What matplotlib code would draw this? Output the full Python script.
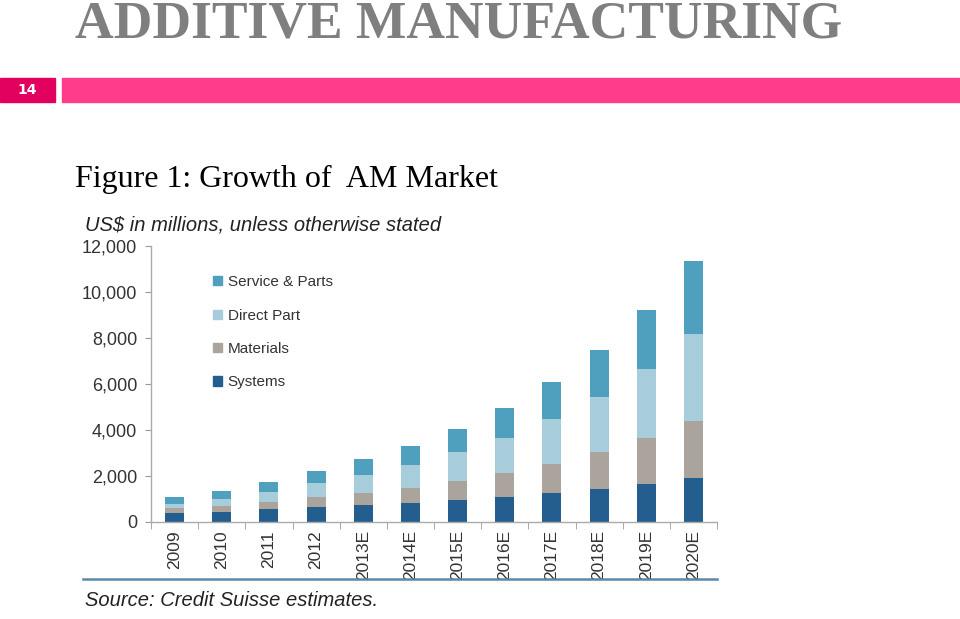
import matplotlib
matplotlib.use("Agg")
import matplotlib.pyplot as plt
from matplotlib.patches import Rectangle, Patch
from matplotlib.lines import Line2D
import numpy as np

years = ["2009", "2010", "2011", "2012", "2013E", "2014E", "2015E",
         "2016E", "2017E", "2018E", "2019E", "2020E"]
systems = [360, 410, 565, 625, 715, 800, 945, 1090, 1260, 1435, 1640, 1900]
materials = [220, 275, 305, 435, 520, 655, 825, 1015, 1265, 1610, 2015, 2495]
direct_part = [190, 290, 435, 610, 795, 1010, 1250, 1550, 1930, 2395, 3000, 3760]
service_parts = [315, 375, 420, 550, 685, 830, 1010, 1305, 1635, 2030, 2540, 3185]
y_ticks = [0, 2000, 4000, 6000, 8000, 10000, 12000]

W, H = 960, 619
fig = plt.figure(figsize=(W / 100, H / 100), dpi=100)

def fx(px):
    return px / W

def fy(py):
    return 1 - py / H

# Slide title
fig.text(fx(75), fy(37), "ADDITIVE MANUFACTURING", family="Liberation Serif",
         fontweight="bold", fontsize=38.5, color="#7f7f7f", ha="left", va="baseline")

# Pink band
fig.patches.append(Rectangle((fx(0), fy(102)), fx(55), (102 - 78) / H,
                             transform=fig.transFigure, color="#e2005f", zorder=0))
fig.patches.append(Rectangle((fx(62), fy(102)), fx(960 - 62), (102 - 78) / H,
                             transform=fig.transFigure, color="#ff3b8b", zorder=0))
fig.text(fx(27), fy(90), "14", color="white", fontsize=10, fontweight="bold",
         ha="center", va="center", family="DejaVu Sans")

# Figure caption
fig.text(fx(75), fy(187), "Figure 1: Growth of  AM Market", family="Liberation Serif",
         fontsize=23, color="black", ha="left", va="baseline")

fig.text(fx(85), fy(225), "US$ in millions, unless otherwise stated",
         family="Liberation Sans", style="italic", fontsize=14.5, color="#222222",
         ha="left", va="center")

# Axes
ax = fig.add_axes([fx(151), 1 - 521.7 / H, fx(717 - 151), 276 / H])
x = np.arange(len(years))
colors = {"sys": "#245e8f", "mat": "#aaa49c", "dir": "#a8cdda", "serv": "#4f9fbe"}
bw = 0.4
b0 = np.zeros(len(years))
s = np.array(systems)
m = np.array(materials)
d = np.array(direct_part)
sv = np.array(service_parts)
ax.bar(x, s, bw, bottom=b0, color=colors["sys"], label="Systems")
ax.bar(x, m, bw, bottom=s, color=colors["mat"], label="Materials")
ax.bar(x, d, bw, bottom=s + m, color=colors["dir"], label="Direct Part")
ax.bar(x, sv, bw, bottom=s + m + d, color=colors["serv"], label="Service & Parts")

ax.set_xlim(-0.5, len(years) - 0.5)
ax.set_ylim(0, 12000)
ax.set_yticks(y_ticks)
ax.set_yticklabels([f"{v:,}" for v in y_ticks], family="Liberation Sans",
                   fontsize=13, color="#333333")
ax.set_xticks(x)
ax.set_xticklabels(years, rotation=90, family="Liberation Sans", fontsize=12.5,
                   color="#333333")
ax.set_xticks(np.arange(-0.5, len(years), 1.0), minor=True)
ax.tick_params(axis="x", which="major", length=0, pad=6)
ax.tick_params(axis="x", which="minor", length=5, color="#999999", direction="out")
ax.tick_params(axis="y", length=4, color="#999999", direction="out", pad=6)
for sp in ["top", "right"]:
    ax.spines[sp].set_visible(False)
for sp in ["left", "bottom"]:
    ax.spines[sp].set_color("#aaaaaa")
    ax.spines[sp].set_linewidth(1.0)

handles = [Patch(color=colors["serv"]), Patch(color=colors["dir"]),
           Patch(color=colors["mat"]), Patch(color=colors["sys"])]
labels = ["Service & Parts", "Direct Part", "Materials", "Systems"]
ax.legend(handles, labels, loc="upper left", bbox_to_anchor=(0.11, 0.893),
          frameon=False, prop={"family": "Liberation Sans", "size": 11},
          handlelength=0.55, handleheight=0.55, handletextpad=0.4,
          labelspacing=1.27, borderpad=0, borderaxespad=0, labelcolor="#333333")

# Bottom rule and source
fig.add_artist(Line2D([fx(83), fx(717)], [fy(579), fy(579)], color="#5a88a8",
                      linewidth=1.8, transform=fig.transFigure))
fig.text(fx(85), fy(600), "Source: Credit Suisse estimates.", family="Liberation Sans",
         style="italic", fontsize=14.5, color="#222222", ha="left", va="center")

fig.savefig("out.png", dpi=100)
